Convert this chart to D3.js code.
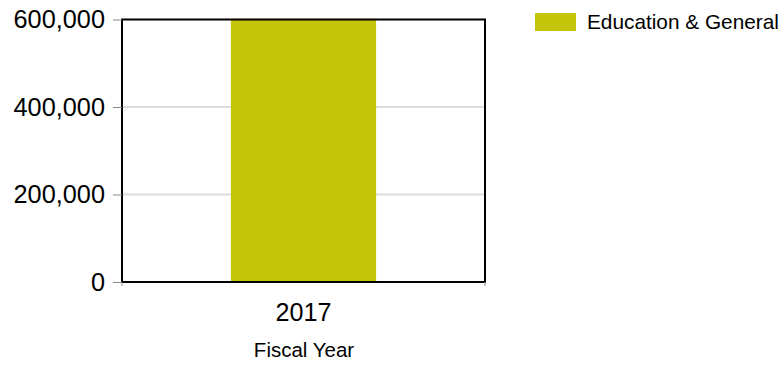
<!DOCTYPE html>
<html><head><meta charset="utf-8">
<script src="https://cdn.jsdelivr.net/npm/d3@7"></script>
<style>body{margin:0;background:#fff}svg{display:block;font-family:"Liberation Sans",Arial,sans-serif}</style>
</head><body><svg id="c" width="782" height="365"></svg>
<script>
const categories = ["2017"];
const seriesNames = ["Education & General"];
const values = [600000];
const yTicks = [0, 200000, 400000, 600000];
const colors = ["#c4c40a"];

const svg = d3.select("#c");
const m = {l:122, r:485, t:19.5, b:282};
const x = d3.scaleBand().domain(categories).range([m.l, m.r]).paddingInner(0).paddingOuter(0);
const y = d3.scaleLinear().domain([0, 600000]).range([m.b, m.t]);

// grid
svg.append("g").selectAll("line").data(yTicks.filter(d=>d>0 && d<600000)).join("line")
  .attr("x1", m.l).attr("x2", m.r).attr("y1", d=>y(d)).attr("y2", d=>y(d))
  .attr("stroke", "#dcdcdc").attr("stroke-width", 2);

// bars
const bw = x.bandwidth()*0.4;
svg.append("g").selectAll("rect").data(values).join("rect")
  .attr("x", (d,i)=>x(categories[i]) + x.bandwidth()/2 - bw/2)
  .attr("width", bw)
  .attr("y", d=>y(d)).attr("height", d=>y(0)-y(d))
  .attr("fill", colors[0]);

// frame
svg.append("rect").attr("x", m.l).attr("y", m.t).attr("width", m.r-m.l).attr("height", m.b-m.t)
  .attr("fill","none").attr("stroke","#000").attr("stroke-width",2);

// y axis
const ya = svg.append("g").attr("transform", `translate(${m.l},0)`)
  .call(d3.axisLeft(y).tickValues(yTicks).tickFormat(d3.format(",")).tickSize(9).tickPadding(8));
ya.select(".domain").remove();
ya.selectAll(".tick line").attr("stroke","#888").attr("stroke-width",1);
ya.selectAll(".tick text").attr("font-size",25.3).attr("fill","#000").attr("dy","0.33em")
  .attr("font-family","Liberation Sans, Arial, sans-serif");

// x axis
const xa = svg.append("g").attr("transform", `translate(0,${m.b})`)
  .call(d3.axisBottom(x).tickSize(0).tickPadding(0));
xa.select(".domain").remove();
xa.selectAll(".tick text").attr("font-size",25.2).attr("fill","#000").attr("dy",null).attr("y",38.5)
  .attr("font-family","Liberation Sans, Arial, sans-serif");
// edge ticks
svg.append("g").selectAll("line").data([m.l, m.r]).join("line")
  .attr("x1", d=>d).attr("x2", d=>d).attr("y1", m.b).attr("y2", m.b+4)
  .attr("stroke","#888").attr("stroke-width",1);

svg.append("text").attr("x", 304).attr("y", 357.3).attr("text-anchor","middle")
  .attr("font-size",20.5).attr("fill","#000").text("Fiscal Year");

// legend
const lg = svg.append("g");
lg.selectAll("rect").data(seriesNames).join("rect")
  .attr("x",535).attr("y",(d,i)=>13+i*24).attr("width",41).attr("height",18).attr("fill",(d,i)=>colors[i]);
lg.selectAll("text").data(seriesNames).join("text")
  .attr("x",587).attr("y",(d,i)=>28.5+i*24).attr("font-size",20.8).attr("fill","#000").text(d=>d);
</script></body></html>
